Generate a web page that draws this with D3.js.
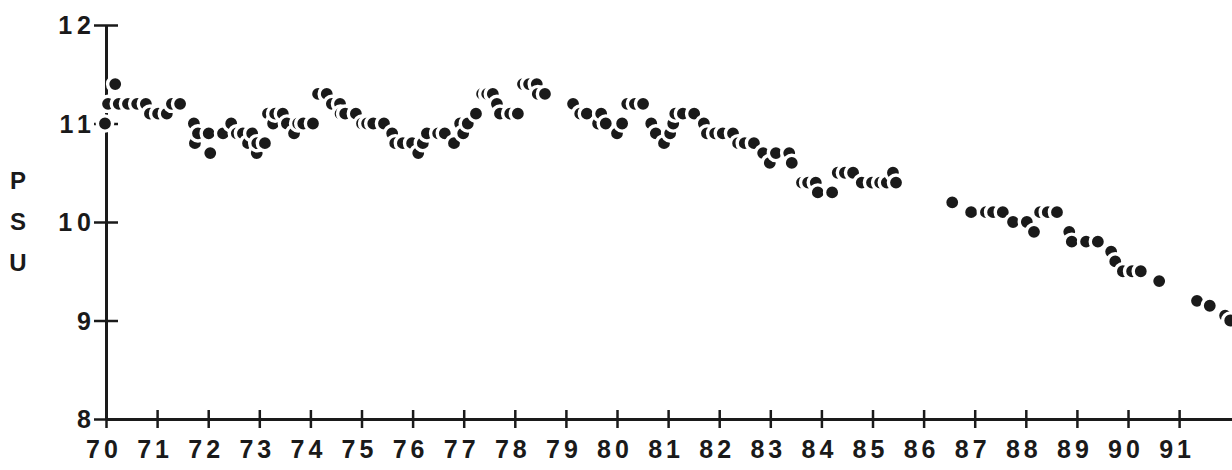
<!DOCTYPE html>
<html>
<head>
<meta charset="utf-8">
<script src="https://cdn.jsdelivr.net/npm/d3@7"></script>
<style>
  html, body { margin: 0; padding: 0; background: #fff; }
  svg { display: block; }
  text { font-family: "Liberation Sans", Arial, sans-serif; font-weight: bold; fill: #1a1a1a; }
</style>
</head>
<body>
<div id="chart"></div>
<script>
// salinity samples, decimal year (70 = 1970) and PSU
const years = [
  69.98, 70.04, 70.18, 70.25, 70.43, 70.61, 70.78, 70.86, 71.02, 71.19,
  71.29, 71.45, 71.72, 71.74, 71.80, 72.01, 72.04, 72.29, 72.45, 72.56,
  72.68, 72.78, 72.86, 72.95, 72.96, 73.11, 73.17, 73.27, 73.31, 73.46,
  73.54, 73.68, 73.76, 73.86, 74.05, 74.15, 74.32, 74.42, 74.58, 74.59,
  74.68, 74.89, 75.01, 75.11, 75.23, 75.44, 75.60, 75.66, 75.81, 75.99,
  76.11, 76.20, 76.28, 76.50, 76.63, 76.81, 76.93, 76.99, 77.08, 77.24,
  77.36, 77.46, 77.57, 77.65, 77.71, 77.91, 78.06, 78.16, 78.28, 78.43,
  78.45, 78.59, 79.14, 79.28, 79.41, 79.63, 79.69, 79.78, 80.00, 80.10,
  80.20, 80.35, 80.51, 80.67, 80.76, 80.92, 81.04, 81.10, 81.14, 81.29,
  81.51, 81.70, 81.76, 81.92, 82.07, 82.27, 82.37, 82.50, 82.68, 82.86,
  82.99, 83.11, 83.37, 83.42, 83.62, 83.74, 83.89, 83.93, 84.21, 84.32,
  84.46, 84.62, 84.79, 84.99, 85.15, 85.28, 85.40, 85.46, 86.56, 86.93,
  87.22, 87.36, 87.55, 87.75, 88.02, 88.16, 88.28, 88.43, 88.61, 88.85,
  88.90, 89.18, 89.41, 89.67, 89.75, 89.90, 90.08, 90.25, 90.61, 91.35,
  91.60, 91.90, 92.00
];
const psu = [
  11.0, 11.2, 11.4, 11.2, 11.2, 11.2, 11.2, 11.1, 11.1, 11.1,
  11.2, 11.2, 11.0, 10.8, 10.9, 10.9, 10.7, 10.9, 11.0, 10.9,
  10.9, 10.8, 10.9, 10.7, 10.8, 10.8, 11.1, 11.0, 11.1, 11.1,
  11.0, 10.9, 11.0, 11.0, 11.0, 11.3, 11.3, 11.2, 11.2, 11.1,
  11.1, 11.1, 11.0, 11.0, 11.0, 11.0, 10.9, 10.8, 10.8, 10.8,
  10.7, 10.8, 10.9, 10.9, 10.9, 10.8, 11.0, 10.9, 11.0, 11.1,
  11.3, 11.3, 11.3, 11.2, 11.1, 11.1, 11.1, 11.4, 11.4, 11.4,
  11.3, 11.3, 11.2, 11.1, 11.1, 11.0, 11.1, 11.0, 10.9, 11.0,
  11.2, 11.2, 11.2, 11.0, 10.9, 10.8, 10.9, 11.0, 11.1, 11.1,
  11.1, 11.0, 10.9, 10.9, 10.9, 10.9, 10.8, 10.8, 10.8, 10.7,
  10.6, 10.7, 10.7, 10.6, 10.4, 10.4, 10.4, 10.3, 10.3, 10.5,
  10.5, 10.5, 10.4, 10.4, 10.4, 10.4, 10.5, 10.4, 10.2, 10.1,
  10.1, 10.1, 10.1, 10.0, 10.0, 9.9, 10.1, 10.1, 10.1, 9.9,
  9.8, 9.8, 9.8, 9.7, 9.6, 9.5, 9.5, 9.5, 9.4, 9.2,
  9.15, 9.05, 9.0
];
const yearTicks = [70, 71, 72, 73, 74, 75, 76, 77, 78, 79, 80,
                   81, 82, 83, 84, 85, 86, 87, 88, 89, 90, 91];
const psuTicks = [8, 9, 10, 11, 12];
const axisLetters = ["P", "S", "U"];

const width = 1232, height = 470;

const svg = d3.select("#chart").append("svg")
  .attr("width", width)
  .attr("height", height);

//scales
const x = d3.scaleLinear().domain([70, 92.035]).range([106, 1232]);
const y = d3.scaleLinear().domain([8, 12]).range([419, 25]);

//x axis, ticks crossing the line
const xAxisDown = svg.append("g")
  .attr("transform", `translate(0,${y(8)})`)
  .call(d3.axisBottom(x).tickValues(yearTicks).tickSize(9).tickSizeOuter(0).tickFormat(""));
const xAxisUp = svg.append("g")
  .attr("transform", `translate(0,${y(8)})`)
  .call(d3.axisTop(x).tickValues(yearTicks.slice(1)).tickSize(9).tickSizeOuter(0).tickFormat(""));

//y axis, ticks on both sides except at the bottom
const yAxisLeft = svg.append("g")
  .attr("transform", `translate(${x(70)},0)`)
  .call(d3.axisLeft(y).tickValues(psuTicks).tickSize(12).tickSizeOuter(0).tickFormat(""));
const yAxisRight = svg.append("g")
  .attr("transform", `translate(${x(70)},0)`)
  .call(d3.axisRight(y).tickValues(psuTicks.slice(1)).tickSize(12).tickSizeOuter(0).tickFormat(""));

[xAxisDown, xAxisUp, yAxisLeft, yAxisRight].forEach(g => {
  g.select(".domain").attr("stroke", "#1a1a1a").attr("stroke-width", 3);
  g.selectAll(".tick line").attr("stroke", "#1a1a1a").attr("stroke-width", 2.5);
});
xAxisUp.select(".domain").remove();
yAxisRight.select(".domain").remove();

//tick labels
svg.append("g").selectAll("text")
  .data(yearTicks)
  .join("text")
  .attr("x", d => x(d) - 2)
  .attr("y", 458)
  .attr("text-anchor", "middle")
  .attr("font-size", 25)
  .attr("letter-spacing", 4)
  .text(d => d);

svg.append("g").selectAll("text")
  .data(psuTicks)
  .join("text")
  .attr("x", 96)
  .attr("y", d => y(d) + 9)
  .attr("text-anchor", "end")
  .attr("font-size", 25)
  .attr("letter-spacing", 5)
  .text(d => d);

//stacked axis title
svg.append("g").selectAll("text")
  .data(axisLetters)
  .join("text")
  .attr("x", 18)
  .attr("y", (d, i) => 189 + i * 41)
  .attr("text-anchor", "middle")
  .attr("font-size", 24)
  .text(d => d);

//points, white ring so later ones cut into earlier ones
const points = years.map((yr, i) => ({ yr, v: psu[i] }));
svg.append("g").selectAll("circle")
  .data(points)
  .join("circle")
  .attr("cx", d => x(d.yr))
  .attr("cy", d => y(d.v))
  .attr("r", 7.6)
  .attr("fill", "#1a1a1a")
  .attr("stroke", "#fff")
  .attr("stroke-width", 3.4);
</script>
</body>
</html>
